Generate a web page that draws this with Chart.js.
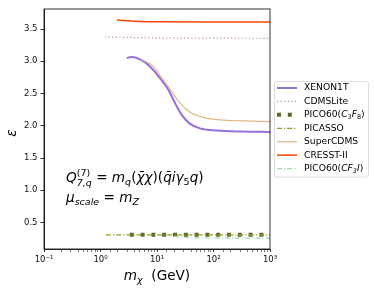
<!DOCTYPE html>
<html>
<head>
<meta charset="utf-8">
<script src="https://cdn.jsdelivr.net/npm/chart.js@4.4.0/dist/chart.umd.min.js"></script>
<style>
    html, body { margin: 0; padding: 0; background: #fff; }
</style>
</head>
<body>
<canvas id="chart" width="374" height="292"></canvas>
<script>
// valores (massa em GeV, epsilon)
const xenonMass = [2.9, 3.5, 5.0, 7.5, 11.3, 15.9, 20.9, 27.4, 38.4, 57.6, 114, 339, 1000]
const xenonEps = [3.05, 3.065, 3.03, 2.92, 2.74, 2.56, 2.35, 2.17, 2.03, 1.96, 1.925, 1.91, 1.905]
const cdmsLiteMass = [1.2, 3, 10, 100, 1000]
const cdmsLiteEps = [3.376, 3.37, 3.362, 3.358, 3.356]
const picoC3F8Mass = [3.3, 30, 1000]
const picoC3F8Eps = [0.31, 0.31, 0.31]
const picassoMass = [1.25, 30, 1000]
const picassoEps = [0.31, 0.31, 0.31]
const superCdmsMass = [5.2, 8.6, 12.9, 18.2, 25.6, 38.4, 66, 130, 339, 1000]
const superCdmsEps = [3.035, 2.92, 2.71, 2.53, 2.35, 2.21, 2.13, 2.09, 2.075, 2.065]
const cresstMass = [1.95, 3, 5, 10, 100, 1000]
const cresstEps = [3.64, 3.628, 3.618, 3.613, 3.61, 3.61]
const picoCF3IMass = [20, 40, 100, 1000]
const picoCF3IEps = [0.285, 0.265, 0.26, 0.26]

const yTicks = [0.5, 1.0, 1.5, 2.0, 2.5, 3.0, 3.5]
const supDigits = {'-1': '⁻¹', '0': '⁰', '1': '¹', '2': '²', '3': '³'}

const FONT = '"DejaVu Sans"'

const makeSet = (label, mass, eps, style) => Object.assign({
    label: label,
    data: mass.map((m, i) => ({x: m, y: eps[i]})),
    pointRadius: 0,
    fill: false,
    cubicInterpolationMode: 'monotone'
}, style)

const datasets = [
    makeSet('XENON1T', xenonMass, xenonEps, {borderColor: '#9370db', borderWidth: 2}),
    makeSet('CDMSLite', cdmsLiteMass, cdmsLiteEps, {borderColor: '#bc8f8f', borderWidth: 1.2, borderDash: [1.2, 2.4]}),
    makeSet('PICO60(C3F8)', picoC3F8Mass, picoC3F8Eps, {borderColor: '#556b2f', borderWidth: 4, borderDash: [4, 6.8], borderCapStyle: 'butt'}),
    makeSet('PICASSO', picassoMass, picassoEps, {borderColor: '#9b9b22', borderWidth: 1.2, borderDash: [5, 2, 1.2, 2]}),
    makeSet('SuperCDMS', superCdmsMass, superCdmsEps, {borderColor: '#deb887', borderWidth: 1.2}),
    makeSet('CRESST-II', cresstMass, cresstEps, {borderColor: '#ff4500', borderWidth: 1.5}),
    makeSet('PICO60(CF3I)', picoCF3IMass, picoCF3IEps, {borderColor: '#a8d8a8', borderWidth: 1.2, borderDash: [5, 2, 1.2, 2]})
]
// como no matplotlib: a ultima serie fica por cima
datasets.forEach((d, i) => { d.order = datasets.length - i })

// rotulos da legenda com sub-indices
const legendRuns = [
    [{t: 'XENON1T'}],
    [{t: 'CDMSLite'}],
    [{t: 'PICO60('}, {t: 'C', it: true}, {t: '3', sub: true}, {t: 'F', it: true}, {t: '8', sub: true}, {t: ')'}],
    [{t: 'PICASSO'}],
    [{t: 'SuperCDMS'}],
    [{t: 'CRESST-II'}],
    [{t: 'PICO60('}, {t: 'CF', it: true}, {t: '3', sub: true, it: true}, {t: 'I', it: true}, {t: ')'}]
]

// desenha uma sequencia de pedacos de texto (sobrescrito / subscrito)
const drawRuns = (ctx, x, y, runs, size, draw) => {
    let cx = x
    let prevStart = x
    runs.forEach(r => {
        const s = r.small ? size * 0.7 : size
        ctx.font = (r.it ? 'italic ' : '') + s + 'px ' + FONT
        const start = r.back ? prevStart : cx
        const dy = r.dy || 0
        if (draw) ctx.fillText(r.t, start, y + dy)
        prevStart = start
        cx = Math.max(cx, start + ctx.measureText(r.t).width)
    })
    return cx - x
}

const extras = {
    id: 'extras',
    afterDraw(chart) {
        const ctx = chart.ctx
        const area = chart.chartArea
        ctx.save()

        // moldura
        ctx.strokeStyle = '#000'
        ctx.lineWidth = 0.8
        ctx.strokeRect(area.left, area.top, area.right - area.left, area.bottom - area.top)

        ctx.fillStyle = '#000'
        ctx.textBaseline = 'alphabetic'

        // anotacao
        const fs = 13.6
        drawRuns(ctx, 66, 182, [
            {t: 'Q', it: true},
            {t: '(7)', small: true, dy: -6.5},
            {t: '7,q', small: true, it: true, dy: 4, back: true},
            {t: ' = '},
            {t: 'm', it: true},
            {t: 'q', small: true, it: true, dy: 3},
            {t: '('},
            {t: 'χ̄χ', it: true},
            {t: ')('},
            {t: 'q̄iγ', it: true},
            {t: '5', small: true, dy: 3},
            {t: 'q', it: true},
            {t: ')'}
        ], fs, true)
        drawRuns(ctx, 66, 202, [
            {t: 'μ', it: true},
            {t: 'scale', small: true, it: true, dy: 3},
            {t: ' = '},
            {t: 'm', it: true},
            {t: 'Z', small: true, it: true, dy: 3}
        ], fs, true)

        // titulo do eixo x
        const xRuns = [{t: 'm', it: true}, {t: 'χ', small: true, it: true, dy: 3}, {t: '  (GeV)'}]
        const xw = drawRuns(ctx, 0, 0, xRuns, 13.6, false)
        drawRuns(ctx, (area.left + area.right) / 2 - xw / 2, 280, xRuns, 13.6, true)

        // titulo do eixo y
        ctx.save()
        ctx.translate(16, 133)
        ctx.rotate(-Math.PI / 2)
        ctx.font = 'italic 13.6px ' + FONT
        ctx.textAlign = 'center'
        ctx.fillText('ε', 0, 0)
        ctx.restore()

        // legenda
        const lx = 274.5, ly = 81.5, lw = 94, lh = 95.5
        ctx.beginPath()
        ctx.roundRect(lx, ly, lw, lh, 2)
        ctx.fillStyle = 'rgba(255,255,255,0.8)'
        ctx.fill()
        ctx.strokeStyle = '#d5d5d5'
        ctx.lineWidth = 0.8
        ctx.stroke()

        chart.data.datasets.forEach((d, i) => {
            const y = 88 + i * 13.43
            ctx.beginPath()
            ctx.setLineDash(d.borderDash || [])
            ctx.lineCap = d.borderCapStyle || 'butt'
            ctx.strokeStyle = d.borderColor
            ctx.lineWidth = d.borderWidth
            ctx.moveTo(277, y)
            ctx.lineTo(297, y)
            ctx.stroke()
            ctx.setLineDash([])
            ctx.fillStyle = '#000'
            ctx.textBaseline = 'middle'
            const runs = legendRuns[i].map(r => r.sub ? Object.assign({small: true, dy: 2.5}, r) : r)
            drawRuns(ctx, 304, y, runs, 9.2, true)
        })

        ctx.restore()
    }
}

const context = document.getElementById('chart').getContext('2d')
const chart = new Chart(context, {
    type: 'line',
    data: {
        datasets: datasets
    },
    options: {
        responsive: false,
        animation: false,
        devicePixelRatio: 1,
        layout: {
            padding: {top: 9, right: 104, left: 0, bottom: 0}
        },
        plugins: {
            legend: {display: false},
            tooltip: {enabled: false}
        },
        scales: {
            x: {
                type: 'logarithmic',
                min: 0.1,
                max: 1000,
                afterFit: (axis) => { axis.height = 43 },
                grid: {
                    drawOnChartArea: false,
                    tickLength: 3,
                    tickColor: '#000',
                    tickWidth: (c) => (Math.abs(Math.log10(c.tick.value) - Math.round(Math.log10(c.tick.value))) < 1e-9 ? 0.8 : 0.5)
                },
                border: {color: '#000', width: 0.8},
                ticks: {
                    autoSkip: false,
                    maxRotation: 0,
                    padding: 2.5,
                    color: '#111',
                    font: {family: 'DejaVu Sans', size: 8.5},
                    callback: (value) => {
                        const p = Math.log10(value)
                        if (Math.abs(p - Math.round(p)) < 1e-9) return '10' + supDigits[String(Math.round(p))]
                        return ''
                    }
                }
            },
            y: {
                min: 0.09,
                max: 3.81,
                afterFit: (axis) => { axis.width = 44 },
                afterBuildTicks: (axis) => { axis.ticks = yTicks.map(v => ({value: v})) },
                grid: {
                    drawOnChartArea: false,
                    tickLength: 3.5,
                    tickColor: '#000',
                    tickWidth: 0.8
                },
                border: {color: '#000', width: 0.8},
                ticks: {
                    padding: 3,
                    color: '#111',
                    font: {family: 'DejaVu Sans', size: 8.5},
                    callback: (v) => Number(v).toFixed(1)
                }
            }
        }
    },
    plugins: [extras]
})
</script>
</body>
</html>
